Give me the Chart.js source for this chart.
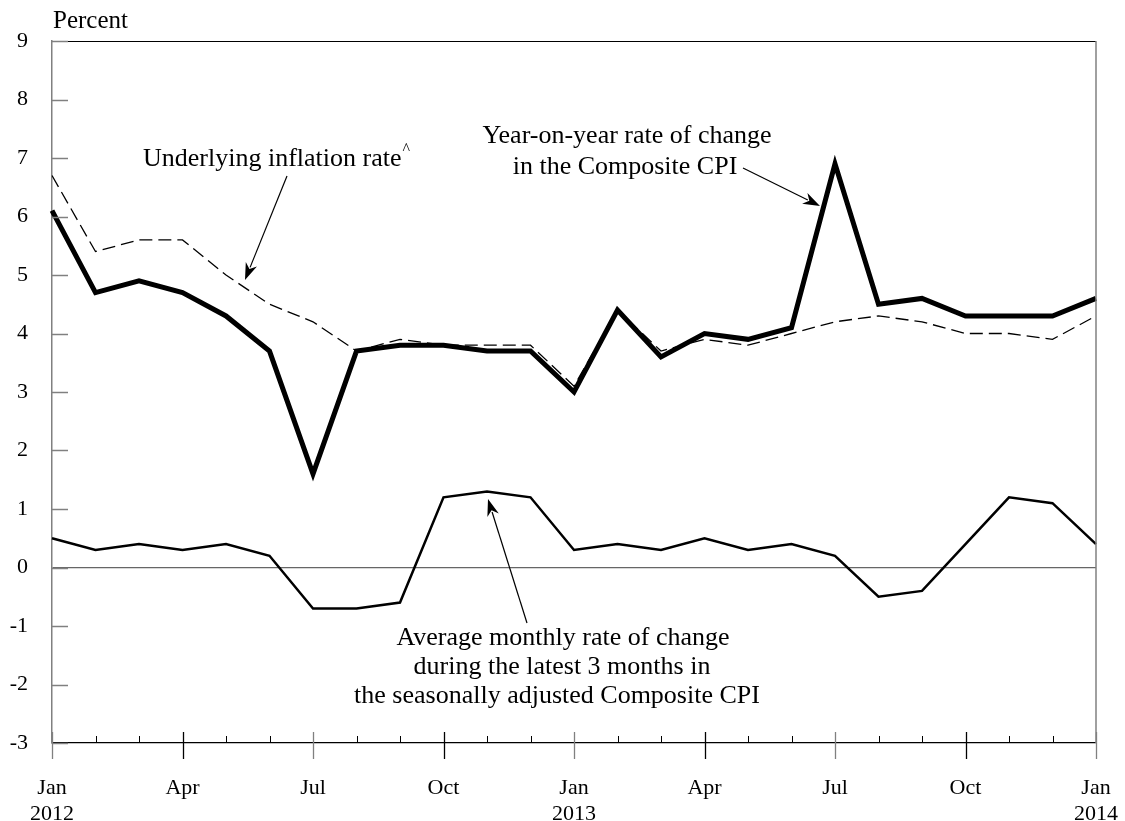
<!DOCTYPE html>
<html>
<head>
<meta charset="utf-8">
<script src="https://cdn.jsdelivr.net/npm/chart.js@4"></script>
<style>
  html, body { margin: 0; padding: 0; background: #fff; }
  #wrap { width: 1125px; height: 821px; }
</style>
</head>
<body>
<div id="wrap"><canvas id="cpiChart" width="1125" height="821"></canvas></div>
<script>
// months Jan 2012 .. Jan 2014
const months = ['2012-01','2012-02','2012-03','2012-04','2012-05','2012-06','2012-07','2012-08','2012-09','2012-10','2012-11','2012-12',
                '2013-01','2013-02','2013-03','2013-04','2013-05','2013-06','2013-07','2013-08','2013-09','2013-10','2013-11','2013-12',
                '2014-01'];
const tickMonth = ['Jan','','','Apr','','','Jul','','','Oct','','',
                   'Jan','','','Apr','','','Jul','','','Oct','','',
                   'Jan'];
const tickYear = ['2012','','','','','','','','','','','',
                  '2013','','','','','','','','','','','',
                  '2014'];

// year-on-year rate of change in the Composite CPI
const yoyCPI = [6.1, 4.7, 4.9, 4.7, 4.3, 3.7, 1.6, 3.7, 3.8, 3.8, 3.7, 3.7,
                3.0, 4.4, 3.6, 4.0, 3.9, 4.1, 6.9, 4.5, 4.6, 4.3, 4.3, 4.3,
                4.6];
// underlying inflation rate
const underlying = [6.7, 5.4, 5.6, 5.6, 5.0, 4.5, 4.2, 3.7, 3.9, 3.8, 3.8, 3.8,
                    3.1, 4.4, 3.7, 3.9, 3.8, 4.0, 4.2, 4.3, 4.2, 4.0, 4.0, 3.9,
                    4.3];
// average monthly rate of change, latest 3 months, seasonally adjusted
const avgMonthly = [0.5, 0.3, 0.4, 0.3, 0.4, 0.2, -0.7, -0.7, -0.6, 1.2, 1.3, 1.2,
                    0.3, 0.4, 0.3, 0.5, 0.3, 0.4, 0.2, -0.5, -0.4, 0.4, 1.2, 1.1,
                    0.4];

const yTicks = [-3, -2, -1, 0, 1, 2, 3, 4, 5, 6, 7, 8, 9];

const serif = "'Liberation Serif', 'DejaVu Serif', serif";

function arrow(ctx, x1, y1, x2, y2) {
    const ang = Math.atan2(y2 - y1, x2 - x1);
    const len = 17, half = 6;
    ctx.beginPath();
    ctx.moveTo(x1, y1);
    ctx.lineTo(x2 - Math.cos(ang) * len * 0.8, y2 - Math.sin(ang) * len * 0.8);
    ctx.lineWidth = 1.2;
    ctx.strokeStyle = '#000';
    ctx.stroke();
    ctx.beginPath();
    ctx.moveTo(x2, y2);
    ctx.lineTo(x2 - Math.cos(ang) * len + Math.sin(ang) * half, y2 - Math.sin(ang) * len - Math.cos(ang) * half);
    ctx.lineTo(x2 - Math.cos(ang) * len * 0.7, y2 - Math.sin(ang) * len * 0.7);
    ctx.lineTo(x2 - Math.cos(ang) * len - Math.sin(ang) * half, y2 - Math.sin(ang) * len + Math.cos(ang) * half);
    ctx.closePath();
    ctx.fillStyle = '#000';
    ctx.fill();
}

// ticks, frame and annotations
const decorPlugin = {
    id: 'decor',
    afterDraw(chart) {
        const ctx = chart.ctx;
        const { left, right, top, bottom } = chart.chartArea;
        const x = chart.scales.x, y = chart.scales.y;
        ctx.save();

        // frame: top and right
        ctx.lineWidth = 1.2;
        ctx.strokeStyle = '#000';
        ctx.beginPath();
        ctx.moveTo(left, top + 0.5);
        ctx.lineTo(right, top + 0.5);
        ctx.stroke();
        ctx.strokeStyle = '#808080';
        ctx.lineWidth = 1.5;
        ctx.beginPath();
        ctx.moveTo(right, top);
        ctx.lineTo(right, bottom);
        ctx.stroke();

        // y ticks pointing inward
        ctx.strokeStyle = '#808080';
        ctx.lineWidth = 1.5;
        yTicks.forEach(v => {
            const py = Math.round(y.getPixelForValue(v)) + 0.5;
            ctx.beginPath();
            ctx.moveTo(left, py);
            ctx.lineTo(left + 16, py);
            ctx.stroke();
        });

        // x ticks
        months.forEach((m, i) => {
            const px = Math.round(x.getPixelForValue(i)) + 0.5;
            ctx.beginPath();
            if (i % 3 === 0) {
                ctx.strokeStyle = (i % 12 === 0 || i % 12 === 6) ? '#808080' : '#000';
                ctx.lineWidth = 1.3;
                ctx.moveTo(px, bottom - 11);
                ctx.lineTo(px, bottom + 16);
            } else {
                ctx.strokeStyle = '#000';
                ctx.lineWidth = 1;
                ctx.moveTo(px, bottom - 7);
                ctx.lineTo(px, bottom);
            }
            ctx.stroke();
        });

        // texts
        ctx.fillStyle = '#000';
        ctx.textBaseline = 'alphabetic';
        ctx.font = '25px ' + serif;
        ctx.textAlign = 'left';
        ctx.fillText('Percent', 53, 28);

        ctx.font = '26px ' + serif;
        ctx.textAlign = 'left';
        ctx.fillText('Underlying inflation rate', 143, 166);
        const w = ctx.measureText('Underlying inflation rate').width;
        ctx.font = '16px ' + serif;
        ctx.fillText('^', 143 + w + 1, 154);

        ctx.font = '26px ' + serif;
        ctx.textAlign = 'center';
        ctx.fillText('Year-on-year rate of change', 627, 143);
        ctx.fillText('in the Composite CPI', 625, 174);

        ctx.fillText('Average monthly rate of change', 563, 645);
        ctx.fillText('during the latest 3 months in', 562, 674);
        ctx.fillText('the seasonally adjusted Composite CPI', 557, 703);

        arrow(ctx, 287, 176, 245, 280);
        arrow(ctx, 743, 168, 820, 206);
        arrow(ctx, 527, 623, 488, 499);

        ctx.restore();
    }
};

const ctx = document.getElementById('cpiChart').getContext('2d');
new Chart(ctx, {
    type: 'line',
    data: {
        labels: months,
        datasets: [
            {
                label: 'Underlying inflation rate',
                data: underlying,
                borderColor: '#000',
                borderWidth: 1.3,
                borderDash: [13, 6],
                pointRadius: 0,
                tension: 0
            },
            {
                label: 'Average monthly rate of change',
                data: avgMonthly,
                borderColor: '#000',
                borderWidth: 2.5,
                pointRadius: 0,
                tension: 0
            },
            {
                label: 'Year-on-year rate of change',
                data: yoyCPI,
                borderColor: '#000',
                borderWidth: 5,
                borderJoinStyle: 'miter',
                pointRadius: 0,
                tension: 0
            }
        ]
    },
    options: {
        responsive: false,
        animation: false,
        layout: { padding: { top: 41, right: 29, left: 0, bottom: 0 } },
        plugins: {
            legend: { display: false },
            tooltip: { enabled: false }
        },
        scales: {
            x: {
                type: 'category',
                offset: false,
                grid: { display: false },
                border: { display: true, color: '#000', width: 1.3 },
                afterFit(scale) {
                    scale.height = 78;
                    scale.paddingLeft = 0;
                    scale.paddingRight = 0;
                },
                ticks: {
                    autoSkip: false,
                    maxRotation: 0,
                    minRotation: 0,
                    padding: 24,
                    color: '#000',
                    font: { family: serif, size: 22 },
                    callback: (v, i) => {
                        if (!tickMonth[i]) return '';
                        return tickYear[i] ? [tickMonth[i], tickYear[i]] : tickMonth[i];
                    }
                }
            },
            y: {
                min: -3,
                max: 9,
                afterFit(scale) { scale.width = 52; },
                afterBuildTicks(scale) { scale.ticks = yTicks.map(v => ({ value: v })); },
                border: { display: true, color: '#808080', width: 1.5 },
                grid: {
                    drawTicks: false,
                    color: c => c.tick && c.tick.value === 0 ? '#666' : 'rgba(0,0,0,0)',
                    lineWidth: 1.3
                },
                ticks: {
                    padding: 24,
                    color: '#000',
                    font: { family: serif, size: 22 },
                    callback: v => v
                }
            }
        }
    },
    plugins: [decorPlugin]
});
</script>
</body>
</html>
